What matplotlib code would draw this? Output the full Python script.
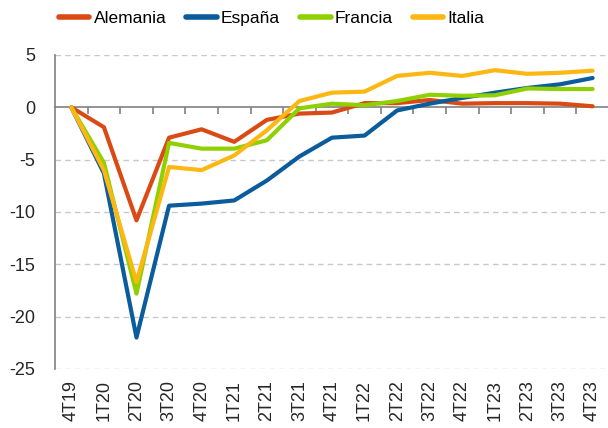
import matplotlib.pyplot as plt

plt.rcParams['font.family'] = ['Liberation Sans', 'DejaVu Sans']
plt.rcParams['axes.unicode_minus'] = False

# quarters and series (% change vs 4T19)
quarters = ['4T19', '1T20', '2T20', '3T20', '4T20', '1T21', '2T21', '3T21', '4T21',
            '1T22', '2T22', '3T22', '4T22', '1T23', '2T23', '3T23', '4T23']
alemania = [0, -1.9, -10.8, -2.9, -2.1, -3.3, -1.2, -0.6, -0.5,
            0.4, 0.4, 0.7, 0.35, 0.4, 0.4, 0.35, 0.1]
espana = [0, -6.3, -22.0, -9.4, -9.2, -8.9, -7.0, -4.7, -2.9,
          -2.7, -0.3, 0.35, 0.9, 1.4, 1.85, 2.2, 2.8]
francia = [0, -5.3, -17.8, -3.4, -3.95, -3.95, -3.15, -0.1, 0.35,
           0.2, 0.6, 1.2, 1.1, 1.15, 1.8, 1.75, 1.75]
italia = [0, -6.0, -16.7, -5.7, -6.0, -4.6, -2.2, 0.6, 1.4,
          1.5, 3.0, 3.3, 3.0, 3.55, 3.2, 3.3, 3.5]

series = [('Alemania', alemania, '#DA4A14'),
          ('España', espana, '#0A5C9C'),
          ('Francia', francia, '#8FD100'),
          ('Italia', italia, '#FDB713')]

fig = plt.figure(figsize=(6.08, 4.28), dpi=100)
ax = fig.add_axes([0.0905, 0.138, 0.911, 0.7335])

x = list(range(len(quarters)))
for name, vals, col in series:
    ax.plot(x, vals, color=col, lw=3, label=name, solid_capstyle='round', zorder=3)

ax.set_xlim(-0.5, len(quarters) - 0.5)
ax.set_ylim(-25, 5)
ax.set_yticks([5, 0, -5, -10, -15, -20, -25])
ax.tick_params(axis='y', length=0, labelsize=13, labelcolor='#262626', pad=14)
for v in [5, -5, -10, -15, -20, -25]:
    ax.axhline(v, color='#c8c8c8', lw=1, ls=(0, (4, 3)), zorder=1)

for s in ['top', 'right']:
    ax.spines[s].set_visible(False)
ax.spines['left'].set_color('#808080')
ax.spines['left'].set_linewidth(1.2)
ax.spines['bottom'].set_position(('data', 0))
ax.spines['bottom'].set_color('#808080')
ax.spines['bottom'].set_linewidth(1.2)
ax.spines['bottom'].set_zorder(2)

# ticks between quarters on the zero line
ax.set_xticks([i + 0.5 for i in x[:-1]])
ax.tick_params(axis='x', direction='out', length=5, width=1.2, color='#808080', labelbottom=False)

# quarter labels under the plot
sec = ax.secondary_xaxis('bottom')
sec.set_xticks(x)
sec.set_xticklabels(quarters, rotation=90)
sec.tick_params(length=0, labelsize=13, labelcolor='#262626', pad=8)
sec.spines['bottom'].set_visible(False)

leg = fig.legend(loc='upper center', bbox_to_anchor=(0.447, 1.01), ncol=4, frameon=False,
                 fontsize=12.5, handlelength=1.75, handletextpad=0.25, columnspacing=1.15)
for line in leg.get_lines():
    line.set_linewidth(4)
    line.set_solid_capstyle('round')

fig.savefig('out.png', dpi=100)
